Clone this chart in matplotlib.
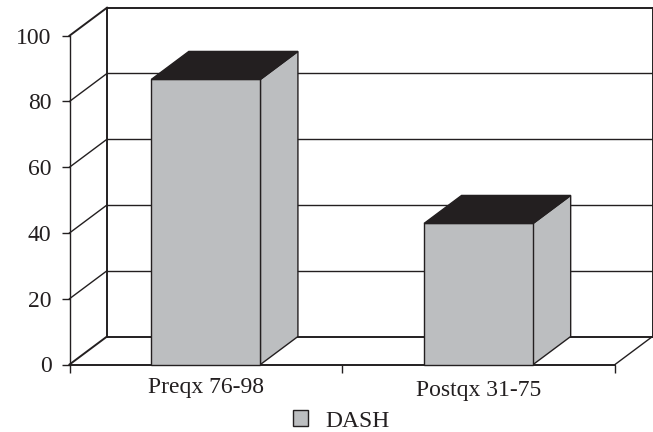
import numpy as np
import matplotlib
matplotlib.use("Agg")
import matplotlib.pyplot as plt
from matplotlib.patches import Patch, Polygon
from matplotlib.transforms import ScaledTranslation

# Data
categories = ["Preqx 76-98", "Postqx 31-75"]
dash_values = [86.7, 42.9]
y_ticks = [0, 20, 40, 60, 80, 100]
series_name = "DASH"

# Style
dark = "#231f20"
bar_gray = "#bcbec0"
depth_x = 37.5 / 272.75  # 3d offset, category units
depth_y = 28 / 3.288     # 3d offset, value units
bar_width = 0.4

plt.rcParams["font.family"] = ["Liberation Serif", "DejaVu Serif"]

W, H = 653, 432
fig = plt.figure(figsize=(W / 100, H / 100), dpi=100)
ax = fig.add_axes([69.5 / W, 1 - 364.5 / H, 545.5 / W, 328.8 / H])
ax.set_xlim(-0.5, 1.5)
ax.set_ylim(0, 100)
x_left, x_right = ax.get_xlim()

for side in ["top", "right"]:
    ax.spines[side].set_visible(False)
ax.spines["left"].set_linewidth(1.0)
ax.spines["left"].set_color(dark)
ax.spines["bottom"].set_linewidth(1.4)
ax.spines["bottom"].set_color(dark)

# Back wall gridlines and side wall diagonals
for t in y_ticks:
    lw = 1.4 if t in (0, 100) else 1.0
    ax.plot([x_left + depth_x, x_right + depth_x], [t + depth_y, t + depth_y],
            color=dark, lw=lw, clip_on=False, zorder=1, solid_capstyle="projecting")
    ax.plot([x_left, x_left + depth_x], [t, t + depth_y],
            color=dark, lw=lw, clip_on=False, zorder=1)
ax.plot([x_left + depth_x] * 2, [depth_y, 100 + depth_y], color=dark, lw=1.4, clip_on=False, zorder=1)
ax.plot([x_right + depth_x] * 2, [depth_y, 100 + depth_y], color=dark, lw=1.4, clip_on=False, zorder=1)
ax.plot([x_right, x_right + depth_x], [0, depth_y], color=dark, lw=1.0, clip_on=False, zorder=1)

# Bars, front face through ax.bar then side and top faces
x_pos = np.arange(len(categories))
ax.bar(x_pos, dash_values, width=bar_width, color=bar_gray, edgecolor=dark,
       linewidth=1.0, zorder=3, clip_on=False)
for x, v in zip(x_pos, dash_values):
    x0 = x - bar_width / 2
    x1 = x + bar_width / 2
    side_face = [(x1, 0), (x1 + depth_x, depth_y), (x1 + depth_x, v + depth_y), (x1, v)]
    top_face = [(x0, v), (x0 + depth_x, v + depth_y), (x1 + depth_x, v + depth_y), (x1, v)]
    ax.add_patch(Polygon(side_face, closed=True, facecolor=bar_gray, edgecolor=dark,
                         lw=1.0, zorder=2, clip_on=False))
    ax.add_patch(Polygon(top_face, closed=True, facecolor=dark, edgecolor=dark,
                         lw=1.0, zorder=4, clip_on=False))

# Axis ticks
ax.set_yticks(y_ticks)
ax.tick_params(axis="y", length=6, width=1.0, color=dark, labelcolor=dark,
               labelsize=17, pad=7)
ax.set_xticks([-0.5, 0.5, 1.5])
ax.tick_params(axis="x", length=6, width=1.0, color=dark, labelbottom=False)
ax.set_xticks(x_pos, minor=True)
ax.set_xticklabels(categories, minor=True)
ax.tick_params(axis="x", which="minor", length=0, labelsize=17, labelcolor=dark, pad=9)

# Second label sits a little lower in the original
second = ax.get_xticklabels(minor=True)[1]
second.set_transform(second.get_transform() + ScaledTranslation(0, -3 / 100, fig.dpi_scale_trans))

# Legend
fig.legend(handles=[Patch(facecolor=bar_gray, edgecolor=dark, linewidth=1.0, label=series_name)],
           loc="center", bbox_to_anchor=(341 / W, 1 - 421 / H), frameon=False,
           fontsize=17, labelcolor=dark, handlelength=0.64, handleheight=0.64,
           handletextpad=0.72)

fig.savefig("out.png", dpi=100)
